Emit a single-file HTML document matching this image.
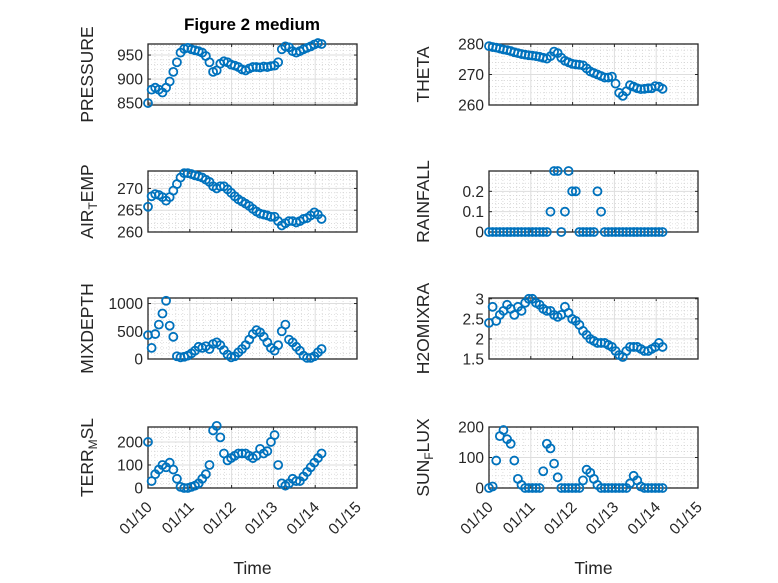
<!DOCTYPE html>
<html><head><meta charset="utf-8"><style>
body{margin:0;background:#fff;}
svg{display:block;font-family:"Liberation Sans","DejaVu Sans",sans-serif;}
</style></head><body>
<svg id="fig" width="778" height="583" viewBox="0 0 778 583">
<rect width="778" height="583" fill="#fff"/>
<text x="252" y="30" text-anchor="middle" font-size="17" font-weight="bold" fill="#000">Figure 2 medium</text>
</svg>
<script>
// time grid: samples every ~2 h starting 01/10 00:00 (days)
const startDay = 0, sampleStep = 0.0865;
const xTickLabels = ["01/10","01/11","01/12","01/13","01/14","01/15"];
const pressureVals = [850,878,882,878,872,882,895,915,935,955,963,965,962,960,958,955,948,935,915,918,932,937,935,930,928,925,920,918,922,925,925,924,926,925,927,928,935,962,968,966,958,955,958,962,965,968,972,975,973];
const thetaVals = [279.3,279,278.8,278.5,278.2,278,277.7,277.3,277,276.7,276.5,276.3,276.2,276,275.8,275.5,275.2,276,277.5,277,275.5,274.5,274,273.5,273.3,273.2,273,272,271,270.5,270,269.5,269,269,269.3,267,264,263,264.5,266.5,266,265.5,265.2,265.3,265.5,265.5,266.2,266,265.3];
const airTempVals = [265.8,268.2,268.7,268.5,268,267.2,268,269.5,271,272.5,273.5,273.5,273.3,273,272.8,272.5,272,271.5,270.5,270,270.5,270.5,269.8,269,268.2,267.5,267,266.5,266,265.3,264.7,264.2,264,263.8,263.5,263.5,262.5,261.5,262,262.5,262.5,262.2,262.5,263,263.2,263.8,264.5,264,263];
const rainfallVals = [0,0,0,0,0,0,0,0,0,0,0,0,0,0,0,0,0,0.1,0.3,0.3,0,0.1,0.3,0.2,0.2,0,0,0,0,0,0.2,0.1,0,0,0,0,0,0,0,0,0,0,0,0,0,0,0,0,0];
const mixDepthVals = [430,200,450,620,820,1050,600,400,50,30,40,60,100,150,220,200,230,180,270,300,250,160,80,30,50,120,180,250,350,450,520,480,400,300,200,150,250,500,620,350,300,220,150,60,20,20,50,120,180];
const h2oVals = [2.4,2.8,2.45,2.6,2.7,2.85,2.75,2.6,2.8,2.7,2.9,3.0,3.0,2.9,2.85,2.75,2.7,2.7,2.6,2.55,2.6,2.8,2.65,2.5,2.45,2.35,2.2,2.1,2.0,1.95,1.9,1.9,1.9,1.85,1.8,1.7,1.6,1.55,1.7,1.8,1.8,1.8,1.75,1.7,1.7,1.75,1.8,1.9,1.8];
const terrVals = [200,30,60,80,100,90,110,80,40,5,0,0,5,10,20,40,60,100,250,270,220,150,120,130,140,150,150,150,140,130,140,170,150,160,200,230,100,20,10,20,40,30,30,50,70,90,110,130,150];
const sunVals = [0,5,90,170,190,160,145,90,30,10,0,0,0,0,0,55,145,130,80,35,0,0,0,0,0,0,25,60,50,30,10,0,0,0,0,0,0,0,0,15,40,25,5,0,0,0,0,0,0];

const pressureTicks=[850,900,950], thetaTicks=[260,270,280], airTicks=[260,265,270], rainTicks=[0,0.1,0.2],
      mixTicks=[0,500,1000], h2oTicks=[1.5,2,2.5,3], terrTicks=[0,100,200], sunTicks=[0,100,200];

const svg=document.getElementById('fig');
const NS='http://www.w3.org/2000/svg';
function mk(tag,attrs,parent){const e=document.createElementNS(NS,tag);for(const k in attrs)e.setAttribute(k,attrs[k]);(parent||svg).appendChild(e);return e;}

const cols=[148,489], W=209, tops=[44,171,298,427], H=61, xMin=0, xMax=5;
const panels=[
 {id:'pressure',col:0,row:0,vals:pressureVals,ylim:[846,973],ticks:pressureTicks,label:['PRESSURE']},
 {id:'theta',col:1,row:0,vals:thetaVals,ylim:[260,280],ticks:thetaTicks,label:['THETA']},
 {id:'air-temp',col:0,row:1,vals:airTempVals,ylim:[260,274],ticks:airTicks,label:['AIR','T','EMP']},
 {id:'rainfall',col:1,row:1,vals:rainfallVals,ylim:[0,0.3],ticks:rainTicks,label:['RAINFALL']},
 {id:'mixdepth',col:0,row:2,vals:mixDepthVals,ylim:[0,1100],ticks:mixTicks,label:['MIXDEPTH']},
 {id:'h2omixra',col:1,row:2,vals:h2oVals,ylim:[1.5,3.02],ticks:h2oTicks,label:['H2OMIXRA']},
 {id:'terrmsl',col:0,row:3,vals:terrVals,ylim:[0,265],ticks:terrTicks,label:['TERR','M','SL']},
 {id:'sunflux',col:1,row:3,vals:sunVals,ylim:[0,200],ticks:sunTicks,label:['SUN','F','LUX']}
];

panels.forEach(p=>{
 const x0=cols[p.col], y0=tops[p.row];
 const xs=t=>x0+(t-xMin)/(xMax-xMin)*W;
 const ys=v=>y0+H-(v-p.ylim[0])/(p.ylim[1]-p.ylim[0])*H;
 const g=mk('g',{});
 
 
 for(let d=0; d<xMax; d++) for(let k=1;k<6;k++){
  const x=xs(d+k/6);
  const l=mk('line',{x1:x,x2:x,y1:y0,y2:y0+H,stroke:'#c8c8c8','stroke-width':0.6,'stroke-dasharray':'1 2'},g);
  
  
 }
 const step=p.ticks[1]-p.ticks[0];
 for(let v=p.ticks[0]-step; v<p.ylim[1]+step; v+=step/5){
  const y=ys(v); if(y<=y0||y>=y0+H) continue;
  const l=mk('line',{x1:x0,x2:x0+W,y1:y,y2:y,stroke:'#c8c8c8','stroke-width':0.6,'stroke-dasharray':'1 2'},g);
  
  
 }
 xTickLabels.forEach((lab,i)=>{
  const x=xs(i);
  const l=mk('line',{x1:x,x2:x,y1:y0,y2:y0+H,stroke:'#dedede','stroke-width':1},g);
  
  
  mk('line',{x1:x,x2:x,y1:y0+H,y2:y0+H-3,stroke:'#262626','stroke-width':1},g);
  mk('line',{x1:x,x2:x,y1:y0,y2:y0+3,stroke:'#262626','stroke-width':1},g);
  if(p.row===3){
   const t=mk('text',{x:x+5,y:y0+H+20,'text-anchor':'end','font-size':15.5,fill:'#262626',transform:`rotate(-45 ${x+5} ${y0+H+20})`},g);
   t.textContent=lab;
   
   
  }
 });
 p.ticks.forEach(v=>{
  const y=ys(v);
  const l=mk('line',{x1:x0,x2:x0+W,y1:y,y2:y,stroke:'#dedede','stroke-width':1},g);
  
  
  mk('line',{x1:x0,x2:x0+3,y1:y,y2:y,stroke:'#262626','stroke-width':1},g);
  mk('line',{x1:x0+W,x2:x0+W-3,y1:y,y2:y,stroke:'#262626','stroke-width':1},g);
  const t=mk('text',{x:x0-5,y:y+5.5,'text-anchor':'end','font-size':15.5,fill:'#262626'},g);
  t.textContent=String(v);
  
  
 });
 const b=mk('rect',{x:x0,y:y0,width:W,height:H,fill:'none',stroke:'#262626','stroke-width':1.3},g);
 
 
 p.vals.forEach((v,i)=>{
  const c=mk('circle',{cx:xs(startDay+i*sampleStep),cy:ys(v),r:4,fill:'none',stroke:'#0072BD','stroke-width':1.8},g);
  
  
 });
 const lx=x0-(p.col===0?55:60), ly=y0+H/2;
 const yl=mk('text',{x:lx,y:ly,'text-anchor':'middle','font-size':17.5,fill:'#262626',transform:`rotate(-90 ${lx} ${ly})`},g);
 
 
 p.label.forEach((s,i)=>{
  const ts=mk('tspan',{},yl);
  if(i===1){ts.setAttribute('font-size','12');ts.setAttribute('dy','4');}
  if(i===2){ts.setAttribute('dy','-4');}
  ts.textContent=s;
 });
 if(p.row===3){
  const xl=mk('text',{x:x0+W/2,y:574,'text-anchor':'middle','font-size':17.5,fill:'#262626'},g);
  xl.textContent='Time';
  
  
 }
});
</script>
</body></html>
